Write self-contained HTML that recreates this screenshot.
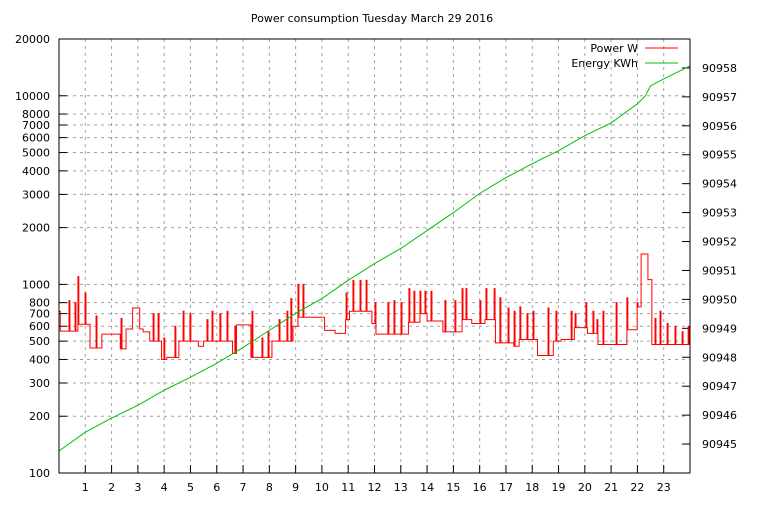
<!DOCTYPE html>
<html><head><meta charset="utf-8"><style>
body{margin:0;background:#fff}
svg text{font-family:"DejaVu Sans","Liberation Sans",sans-serif;font-size:11px;fill:#000}
</style></head><body>
<svg id="c" width="768" height="500" xmlns="http://www.w3.org/2000/svg"></svg>
<script>
const leftTicks=[100,200,300,400,500,600,700,800,1000,2000,3000,4000,5000,6000,7000,8000,10000,20000];
const rightTicks=[90945,90946,90947,90948,90949,90950,90951,90952,90953,90954,90955,90956,90957,90958];
const hourTicks=[1,2,3,4,5,6,7,8,9,10,11,12,13,14,15,16,17,18,19,20,21,22,23];
const energyHours=[0,1,2,3,4,5,6,7,8,9,10,11,12,13,14,15,16,17,18,19,20,21,22,22.3,22.5,23,24];
const energyValues=[90944.76,90945.41,90945.90,90946.34,90946.86,90947.31,90947.79,90948.34,90948.93,90949.52,90950.03,90950.66,90951.24,90951.76,90952.38,90953.00,90953.66,90954.21,90954.69,90955.14,90955.66,90956.10,90956.76,90957.03,90957.38,90957.62,90958.07];
const baseHours=[0,0.05,0.75,1.18,1.63,2.33,2.55,2.8,3.07,3.2,3.45,3.9,4.1,4.56,5.3,5.5,6.6,6.75,7.3,8.1,8.9,9.1,10.1,10.5,10.9,11.05,11.9,12.02,13.29,13.73,14.0,14.6,15.36,15.7,16.2,16.6,17.3,17.5,18.2,18.8,19.1,19.6,20.1,20.5,21.6,22.0,22.14,22.4,22.55];
const baseValues=[720,565,615,460,545,455,580,750,580,560,500,400,410,500,470,500,430,610,410,500,600,670,570,550,650,720,620,545,630,700,640,560,650,620,650,490,470,510,420,500,510,590,550,480,575,760,1450,1060,480];
const spikeHours=[0.38,0.61,0.72,0.99,1.41,2.36,3.58,3.77,3.99,4.41,4.72,4.98,5.63,5.82,6.12,6.39,6.69,7.34,7.72,7.95,8.37,8.67,8.82,9.09,9.28,10.92,11.18,11.45,11.68,12.02,12.51,12.74,13.01,13.31,13.5,13.73,13.92,14.15,14.68,15.06,15.33,15.48,16.01,16.24,16.55,16.77,17.08,17.31,17.53,17.8,18.03,18.6,18.9,19.48,19.63,20.04,20.31,20.46,20.69,21.19,21.6,21.99,22.67,22.86,23.13,23.43,23.7,23.93];
const spikeValues=[820,800,1100,900,680,660,700,700,520,600,720,700,650,720,700,720,600,720,520,560,650,720,840,1000,1000,900,1050,1050,1050,800,800,820,800,950,920,920,920,920,820,820,950,950,820,950,950,850,750,720,760,700,720,750,720,720,700,800,720,650,720,800,850,800,660,720,620,600,560,600];

const L=59,R=690,T=39,B=473;
const NS="http://www.w3.org/2000/svg";
const svg=document.getElementById('c');
const xS=h=>L+(R-L)*h/24;
const yL=v=>B-(B-T)*Math.log10(v/100)/Math.log10(200);
const yR=v=>B-(B-T)*(v-90944)/15;
function mk(tag,attrs,txt){const e=document.createElementNS(NS,tag);for(const k in attrs)e.setAttribute(k,attrs[k]);if(txt!==undefined)e.textContent=txt;svg.appendChild(e);return e;}

let t=mk('text',{x:372,y:22,'text-anchor':'middle'},'Power consumption Tuesday March 29 2016');



leftTicks.forEach(v=>{const y=yL(v);
 if(v>100&&v<20000){const g=mk('line',{x1:L,x2:R,y1:y,y2:y,stroke:'#a0a0a0','stroke-dasharray':'3,4'});
 }
 mk('line',{x1:L,x2:L+8,y1:y,y2:y,stroke:'#000'});
 const tx=mk('text',{x:50,y:y+4,'text-anchor':'end'},String(v));
 
});
rightTicks.forEach(v=>{const y=yR(v);
 mk('line',{x1:R-8,x2:R,y1:y,y2:y,stroke:'#000'});
 const tx=mk('text',{x:702,y:y+4},String(v));
 
});
hourTicks.forEach(h=>{const x=xS(h);
 const g=mk('line',{x1:x,x2:x,y1:T,y2:B,stroke:'#a0a0a0','stroke-dasharray':'3,4'});
 
 mk('line',{x1:x,x2:x,y1:B-8,y2:B,stroke:'#000'});
 const tx=mk('text',{x:x,y:491,'text-anchor':'middle'},String(h));
 
});

// power step series
const W=0.035;
function baseAt(h){let v=baseValues[0];for(let i=0;i<baseHours.length;i++){if(baseHours[i]<=h)v=baseValues[i];}return v;}
function valAt(h){for(let i=0;i<spikeHours.length;i++){if(h>=spikeHours[i]&&h<spikeHours[i]+W)return spikeValues[i];}return baseAt(h);}
let bps=new Set([0,24]);baseHours.forEach(h=>bps.add(h));spikeHours.forEach(h=>{bps.add(h);bps.add(Math.min(24,h+W));});
const arr=[...bps].sort((a,b)=>a-b);
let d='';
for(let i=0;i<arr.length-1;i++){const v=valAt((arr[i]+arr[i+1])/2);const y=yL(v);
 d+=(i===0?'M':'L')+xS(arr[i]).toFixed(2)+','+y.toFixed(2)+'L'+xS(arr[i+1]).toFixed(2)+','+y.toFixed(2);}
const p=mk('path',{d:d,fill:'none',stroke:'#ff0000','stroke-width':1});


let ed='';energyHours.forEach((h,i)=>{ed+=(i?'L':'M')+xS(h).toFixed(2)+','+yR(energyValues[i]).toFixed(2);});
const e=mk('path',{d:ed,fill:'none',stroke:'#00c000','stroke-width':1});


const br=mk('rect',{x:L,y:T,width:R-L,height:B-T,fill:'none',stroke:'#000'});


let l1=mk('text',{x:638,y:52,'text-anchor':'end'},'Power W');

let s1=mk('line',{x1:645,x2:678,y1:48,y2:48,stroke:'#ff0000'});

let l2=mk('text',{x:638,y:67,'text-anchor':'end'},'Energy KWh');

let s2=mk('line',{x1:645,x2:678,y1:63,y2:63,stroke:'#00c000'});

</script>
</body></html>
